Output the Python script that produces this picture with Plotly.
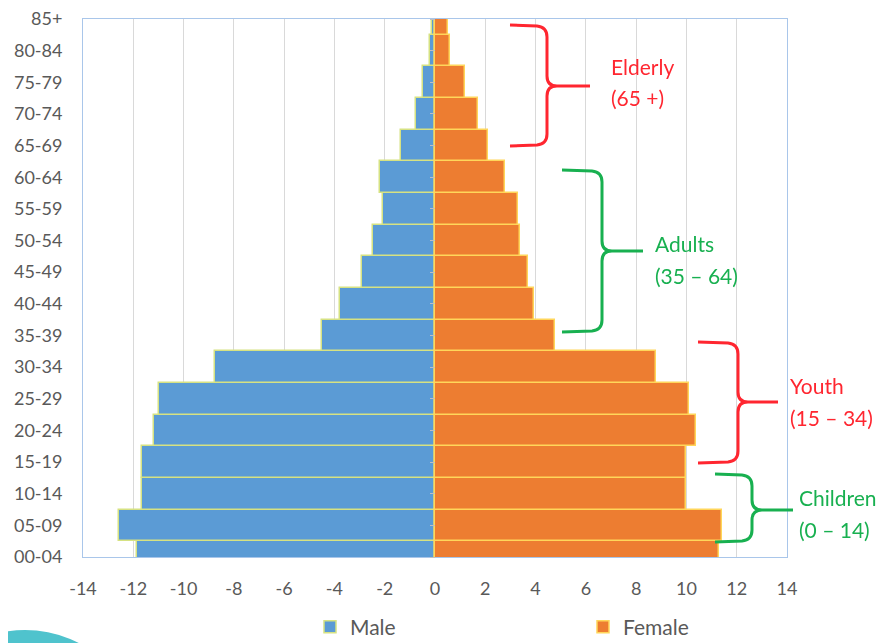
import plotly.graph_objects as go

# ---------------- data ----------------
age_groups = ["00-04", "05-09", "10-14", "15-19", "20-24", "25-29", "30-34", "35-39",
              "40-44", "45-49", "50-54", "55-59", "60-64", "65-69", "70-74", "75-79",
              "80-84", "85+"]
male = [-11.87, -12.58, -11.66, -11.66, -11.19, -10.99, -8.76, -4.49,
        -3.76, -2.90, -2.45, -2.08, -2.17, -1.37, -0.76, -0.49, -0.18, -0.12]
female = [11.29, 11.42, 9.99, 9.99, 10.40, 10.10, 8.78, 4.79,
          3.92, 3.69, 3.38, 3.31, 2.80, 2.11, 1.72, 1.20, 0.59, 0.50]
x_tick_vals = [-14, -12, -10, -8, -6, -4, -2, 0, 2, 4, 6, 8, 10, 12, 14]
x_tick_text = ["-14", "-12", "-10", "-8", "-6", "-4", "-2", "0", "2", "4", "6", "8", "10", "12", "14"]

groups = [  # label, range, colour
    ("Elderly", "(65 +)", "red"),
    ("Adults", "(35 \u2013 64)", "green"),
    ("Youth", "(15 \u2013 34)", "red"),
    ("Children", "(0 \u2013 14)", "green"),
]

# ---------------- layout geometry (screen pixels) ----------------
VW, VH = 888, 643          # browser window
OFF = 8                    # default page (body) margin
FW, FH = VW - OFF, VH - OFF
L, R, T, B = 83, 787, 19, 557  # plot-area edges on screen


def px(x):
    return (x - L) / (R - L)


def py(y):
    return (B - y) / (B - T)


RED = "rgb(255,38,48)"
GREEN = "rgb(24,176,80)"
colmap = {"red": RED, "green": GREEN}
FONT = "Lato, Liberation Sans, sans-serif"
GREY = "#595959"

fig = go.Figure()
fig.add_trace(go.Bar(
    y=age_groups, x=male, orientation="h", name="Male",
    marker=dict(color="#5B9BD5", line=dict(color="rgb(214,226,130)", width=1.5)),
))
fig.add_trace(go.Bar(
    y=age_groups, x=female, orientation="h", name="Female",
    marker=dict(color="#ED7D31", line=dict(color="rgb(255,214,90)", width=1.5)),
))
# invisible helper trace so the centre axis (tick marks at 0) is drawn
fig.add_trace(go.Scatter(
    y=age_groups, x=female, yaxis="y2", mode="markers", opacity=0,
    showlegend=False, hoverinfo="skip",
))

# braces (decoration) in screen-pixel geometry
braces = [
    # x_arm, x_spine, x_tip, y_top, y_mid, y_bot
    (510, 547, 590, 25, 86, 146),
    (562, 602, 643, 170, 251, 332),
    (698, 738, 778, 342, 402, 463),
    (715, 752, 793, 474, 510, 542),
]
text_pos = [(609, 66, 98), (653, 243, 275), (788, 385, 417), (797, 497, 529)]

shapes = []
for (xa, xs, xt, yt, ym, yb), (_, _, c) in zip(braces, groups):
    r = 10
    pts = [
        ("M", [(xa, yt)]),
        ("L", [(xs - r, yt + 1)]),
        ("Q", [(xs, yt + 2), (xs, yt + r + 2)]),
        ("L", [(xs, ym - r)]),
        ("Q", [(xs, ym), (xs + r, ym)]),
        ("L", [(xt, ym)]),
        ("L", [(xs + r, ym)]),
        ("Q", [(xs, ym), (xs, ym + r)]),
        ("L", [(xs, yb - r - 2)]),
        ("Q", [(xs, yb - 2), (xs - r, yb - 1)]),
        ("L", [(xa, yb)]),
    ]
    path = " ".join(cmd + " " + " ".join(f"{px(a):.5f},{py(b):.5f}" for a, b in p) for cmd, p in pts)
    shapes.append(dict(type="path", path=path, xref="paper", yref="paper",
                       line=dict(color=colmap[c], width=3), fillcolor="rgba(0,0,0,0)"))

# teal decorative arc at bottom-left
cx, cy, rr = 25, 748, 118
shapes.append(dict(type="circle", xref="paper", yref="paper",
                   x0=px(cx - rr), x1=px(cx + rr), y0=py(cy + rr), y1=py(cy - rr),
                   fillcolor="#4FC3CD", line=dict(width=0), layer="above"))

annotations = []
for (name, rng, c), (tx, y1, y2) in zip(groups, text_pos):
    for txt, yy in ((name, y1), (rng, y2)):
        annotations.append(dict(text=txt, x=px(tx), y=py(yy), xref="paper", yref="paper",
                                xanchor="left", yanchor="middle", showarrow=False,
                                font=dict(family=FONT, size=21, color=colmap[c])))

fig.update_layout(
    width=FW, height=FH, autosize=False,
    margin=dict(l=L - OFF, r=VW - R, t=T - OFF, b=VH - B, pad=0, autoexpand=False),
    paper_bgcolor="white", plot_bgcolor="white",
    barmode="overlay", bargap=0,
    font=dict(family=FONT, size=18, color=GREY),
    xaxis=dict(range=[-14, 14], tickvals=x_tick_vals, ticktext=x_tick_text,
               showgrid=True, gridcolor="#D9D9D9", gridwidth=1, zeroline=False,
               showline=True, mirror=True, linecolor="#A9C6EA", linewidth=1,
               ticks="outside", ticklen=15, tickcolor="rgba(0,0,0,0)", automargin=False,
               tickfont=dict(size=18, color=GREY), fixedrange=True),
    yaxis=dict(type="category", range=[0, 17], categoryorder="array", categoryarray=age_groups,
               showgrid=False, zeroline=False, automargin=False,
               showline=True, mirror=True, linecolor="#A9C6EA", linewidth=1,
               ticks="outside", ticklen=16, tickcolor="rgba(0,0,0,0)",
               tickfont=dict(size=18, color=GREY), fixedrange=True),
    yaxis2=dict(type="category", range=[0, 17], categoryorder="array", categoryarray=age_groups,
                overlaying="y", anchor="free", position=0.5, side="left", automargin=False,
                showticklabels=False, showgrid=False, zeroline=False, showline=False,
                ticks="outside", ticklen=5, tickcolor="#BFBFBF", tickwidth=1, fixedrange=True),
    legend=dict(orientation="h", x=px(310), xanchor="left", y=py(627), yanchor="middle",
                font=dict(family=FONT, size=21, color=GREY),
                entrywidth=228, entrywidthmode="pixels", traceorder="normal"),
    shapes=shapes, annotations=annotations,
)

fig.write_html("out.html")
